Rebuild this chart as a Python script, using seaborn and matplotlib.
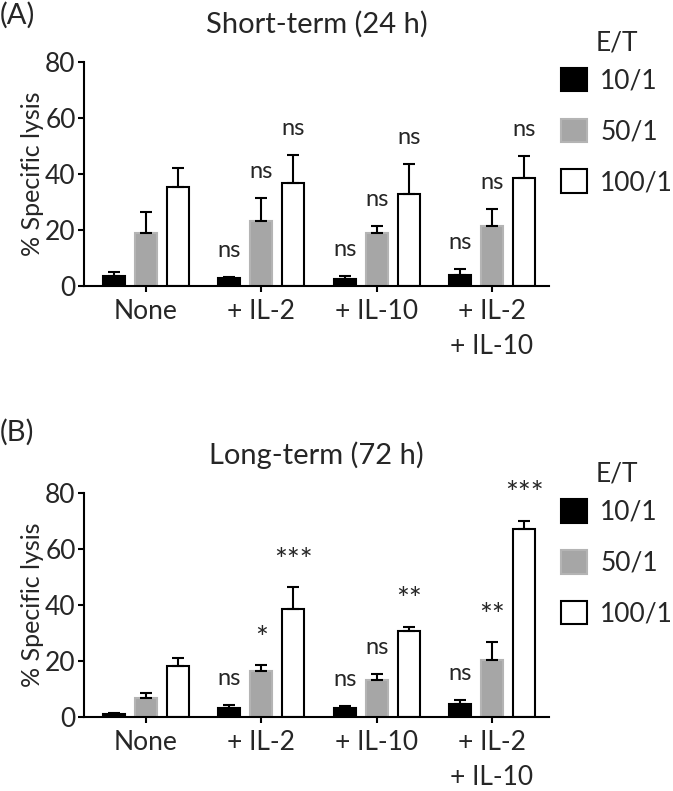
import pandas as pd
import seaborn as sns
import matplotlib.pyplot as plt

# Categories
treatments = ["None", "+ IL-2", "+ IL-10", "+ IL-2\n+ IL-10"]
ratios = ["10/1", "50/1", "100/1"]
bar_colors = ["#000000", "#a6a6a6", "#ffffff"]
edge_colors = ["#000000", "#b4b4b4", "#000000"]

# Short-term (24 h): rows = E/T ratio, columns = treatment
short_mean = [[3.5, 2.8, 2.4, 3.8],
              [19.0, 23.1, 19.0, 21.4],
              [35.2, 36.7, 32.7, 38.5]]
short_err = [[1.5, 0.6, 1.1, 2.2],
             [7.3, 8.3, 2.5, 6.1],
             [7.1, 10.2, 10.9, 8.0]]
short_sig = [["", "ns", "ns", "ns"],
             ["", "ns", "ns", "ns"],
             ["", "ns", "ns", "ns"]]

# Long-term (72 h)
long_mean = [[1.1, 3.1, 3.2, 4.6],
             [6.6, 16.4, 13.2, 20.3],
             [18.3, 38.6, 30.7, 67.4]]
long_err = [[0.4, 1.1, 0.8, 1.3],
            [1.8, 2.0, 2.0, 6.5],
            [2.7, 7.8, 1.5, 2.9]]
long_sig = [["", "ns", "ns", "ns"],
            ["", "*", "ns", "**"],
            ["", "***", "**", "***"]]

sns.set_style("ticks")
plt.rcParams['font.family'] = ['Lato', 'DejaVu Sans']


def draw_panel(ax, means, errs, sigs, title):
    rows = []
    for i, r in enumerate(ratios):
        for j, t in enumerate(treatments):
            rows.append({'treatment': t, 'ratio': r, 'value': means[i][j]})
    df = pd.DataFrame(rows)

    sns.barplot(data=df, x='treatment', y='value', hue='ratio',
                order=treatments, hue_order=ratios, palette=bar_colors,
                width=0.834, gap=0.31, errorbar=None, legend=False, ax=ax)
    bar_conts = list(ax.containers)

    # one-sided error bars + significance labels
    for i, container in enumerate(bar_conts):
        for j, bar in enumerate(container):
            bar.set_edgecolor(edge_colors[i])
            bar.set_linewidth(1.5)
            x = bar.get_x() + bar.get_width() / 2
            top = bar.get_height()
            ax.errorbar(x, top, yerr=[[0], [errs[i][j]]], fmt='none',
                        ecolor='black', elinewidth=1.5, capsize=4,
                        capthick=1.5, zorder=3)
            label = sigs[i][j]
            if label:
                star = label.startswith('*')
                ax.annotate(label, (x, top + errs[i][j]),
                            xytext=(0, 19), textcoords='offset points',
                            ha='center', va='center',
                            fontsize=22 if star else 17,
                            annotation_clip=False)

    ax.set_xlim(-0.538, 3.495)
    ax.set_ylim(0, 80)
    ax.set_yticks([0, 20, 40, 60, 80])
    ax.set_xlabel('')
    ax.set_ylabel('% Specific lysis', fontsize=18, labelpad=1)
    ax.set_title(title, fontsize=21, pad=21)
    ax.tick_params(axis='both', labelsize=19, width=1.5, length=4.5,
                   color='black', pad=1.5)
    ax.tick_params(axis='x', pad=5)
    for lab in ax.get_xticklabels():
        lab.set_linespacing(1.5)
    sns.despine(ax=ax)
    for side in ['left', 'bottom']:
        ax.spines[side].set_linewidth(1.5)
        ax.spines[side].set_color('black')

    ax.legend(bar_conts, ratios, frameon=False,
              loc='upper left', bbox_to_anchor=(1.025, 0.975),
              fontsize=19, borderpad=0,
              handlelength=1.0, handleheight=1.0, handletextpad=0.5,
              labelspacing=0.95, borderaxespad=0)
    ax.text(1.146, 1.085, 'E/T', transform=ax.transAxes, fontsize=19,
            ha='center', va='center')


fig = plt.figure(figsize=(6.73, 7.91), dpi=100)
ax_a = fig.add_axes([0.1248, 0.6384, 0.691, 0.2832])
ax_b = fig.add_axes([0.1248, 0.0939, 0.691, 0.2823])

draw_panel(ax_a, short_mean, short_err, short_sig, 'Short-term (24 h)')
draw_panel(ax_b, long_mean, long_err, long_sig, 'Long-term (72 h)')

fig.text(0.0, 1 - 15 / 791, '(A)', fontsize=21, va='center', ha='left')
fig.text(0.0, 1 - 432 / 791, '(B)', fontsize=21, va='center', ha='left')

fig.savefig('out.png', dpi=100)
